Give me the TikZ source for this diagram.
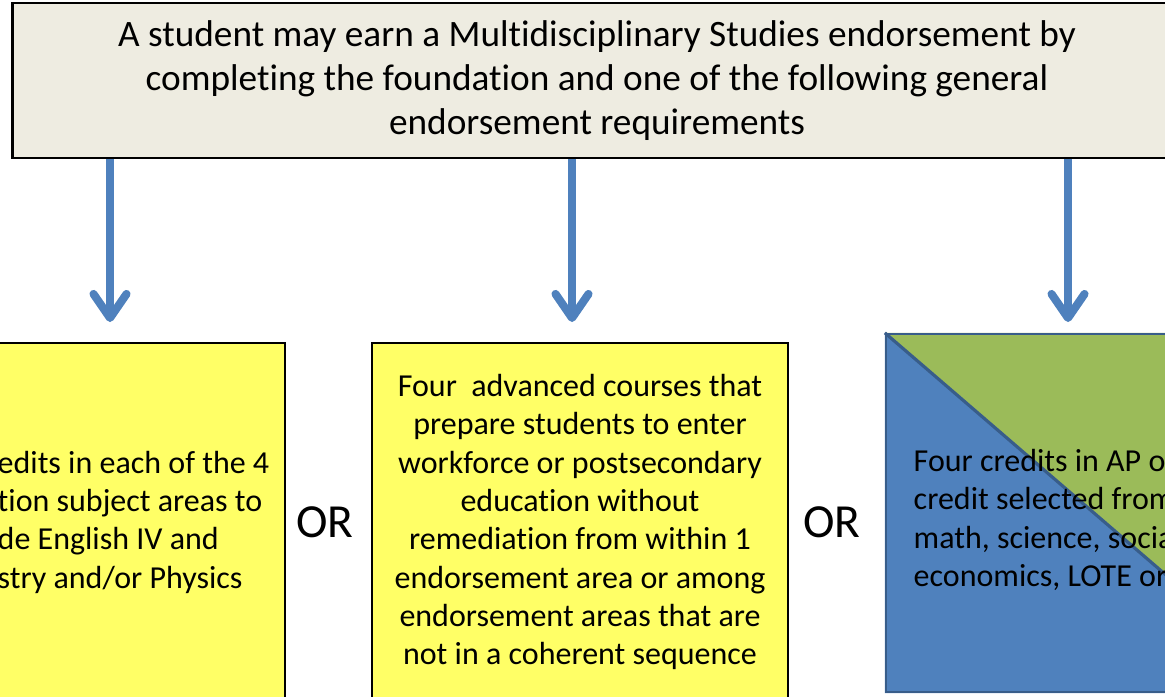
\documentclass[tikz,border=0pt]{standalone}
\usepackage{fontspec}
\setmainfont{Carlito}[Ligatures=NoCommon]
\usetikzlibrary{arrows.meta,positioning,backgrounds}
\definecolor{parch}{RGB}{238,236,225}
\definecolor{lemon}{RGB}{255,255,102}
\definecolor{steel}{RGB}{79,129,189}
\definecolor{olive}{RGB}{155,187,89}
\definecolor{denim}{RGB}{56,93,138}
\tikzset{
  >={Straight Barb[length=2.4mm,width=3.3mm,line cap=round,line join=round]},
  head/.style={draw=black,line width=0.7pt,fill=parch,minimum width=11.68cm,
    minimum height=1.55cm,align=center,font=\fontsize{10.6}{12.5}\selectfont},
  choice/.style={draw=#1,line width=0.6pt,minimum width=4.16cm,minimum height=3.58cm,
    align=center,font=\fontsize{9.1}{10.9}\selectfont},
  choice/.default=black,
  body/.style={inner sep=0pt,align=left,font=\fontsize{9.1}{10.9}\selectfont},
  flow/.style={->,line width=2.3pt,draw=steel},
  ortag/.style={font=\fontsize{13.5}{15}\selectfont},
}
\begin{document}
\begin{tikzpicture}[x=0.01cm,y=-0.01cm]
  \useasboundingbox (0,0) rectangle (1165,696);
  \clip (0,0) rectangle (1165,696);
  % top statement
  \node[head] (top) at (597,80.5) {A student may earn a Multidisciplinary Studies endorsement by\\
    completing the foundation and one of the following general\\endorsement requirements};
  % three options
  \node[choice,fill=lemon] (opta) at (77,522) {};
  \node[body,anchor=west] (txta) at (-3,522) {edits in each of the 4\\tion subject areas to\\
    de English IV and\\stry and/or Physics};
  \node[choice,fill=lemon] (optb) at (580,522) {Four\ \ advanced courses that\\prepare students to enter\\
    workforce or postsecondary\\education without\\remediation from within 1\\
    endorsement area or among\\endorsement areas that are\\not in a coherent sequence};
  \node[choice=denim] (optc) at (1094,513) {};
  \begin{scope}[on background layer]
    \fill[olive] (optc.north west) -- (optc.north east) -- (optc.south east) -- cycle;
    \fill[steel] (optc.north west) -- (optc.south west) -- (optc.south east) -- cycle;
  \end{scope}
  \draw[denim,line width=0.9pt] (optc.north west) -- (optc.south east);
  \node[body,anchor=west] (txtc) at (913,520) {Four credits in AP o\\credit selected from\\
    math, science, socia\\economics, LOTE or};
  \node[ortag] (or1) at (325,522) {OR};
  \node[ortag] (or2) at (832,522) {OR};
  % arrows
  \coordinate (enda) at (110,322);
  \coordinate (endb) at (572,322);
  \coordinate (endc) at (1068,322);
  \foreach \e in {enda,endb,endc}
    \draw[flow] (top.south -| \e) -- (\e);
\end{tikzpicture}
\end{document}
